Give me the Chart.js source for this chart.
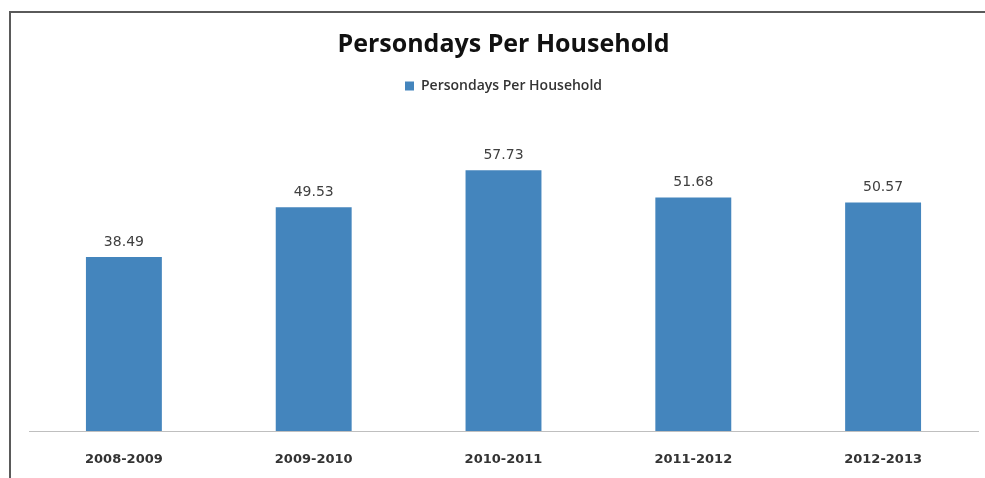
<!DOCTYPE html>
<html>
<head>
<meta charset="utf-8">
<script src="https://cdn.jsdelivr.net/npm/chart.js@4"></script>
<style>
  html, body { margin: 0; padding: 0; background: #fff; overflow: hidden; }
  #wrap { position: relative; width: 985px; height: 478px; }
  #frame { position: absolute; left: 9px; top: 11px; right: 0; bottom: -5px;
           border-left: 2px solid #5a5a5a; border-top: 2px solid #5a5a5a; pointer-events: none; }
  canvas { position: absolute; left: 0; top: 0; }
</style>
</head>
<body>
<div id="wrap">
  <canvas id="chart" width="985" height="478"></canvas>
  <div id="frame"></div>
</div>
<script>
// data
const years = ['2008-2009', '2009-2010', '2010-2011', '2011-2012', '2012-2013'];
const persondays = [38.49, 49.53, 57.73, 51.68, 50.57];
const seriesName = 'Persondays Per Household';

// values printed above each bar
const barValues = {
  id: 'barValues',
  afterDatasetsDraw(chart) {
    const ctx = chart.ctx;
    const meta = chart.getDatasetMeta(0);
    ctx.save();
    ctx.font = '14px "DejaVu Sans"';
    ctx.fillStyle = '#404040';
    ctx.textAlign = 'center';
    ctx.textBaseline = 'middle';
    meta.data.forEach((bar, i) => {
      ctx.fillText(persondays[i].toFixed(2), bar.x, bar.y - 15);
    });
    ctx.restore();
  }
};

new Chart(document.getElementById('chart'), {
  type: 'bar',
  data: {
    labels: years,
    datasets: [{
      label: seriesName,
      data: persondays,
      backgroundColor: '#4485bd',
      borderWidth: 0,
      barPercentage: 0.4,
      categoryPercentage: 1
    }]
  },
  options: {
    responsive: false,
    animation: false,
    layout: { padding: { left: 29, right: 7, top: 0, bottom: 0 } },
    plugins: {
      title: {
        display: true,
        text: seriesName,
        color: '#111',
        font: { family: '"Open Sans"', size: 25, weight: 'bold', lineHeight: 1.2 },
        padding: { top: 30, bottom: 11 }
      },
      legend: {
        display: true,
        position: 'top',
        labels: {
          boxWidth: 9, boxHeight: 9, color: '#333',
          font: { family: '"Open Sans"', size: 14, weight: '600' },
          padding: 8
        }
      },
      tooltip: { enabled: false }
    },
    scales: {
      x: {
        grid: { display: false },
        border: { display: true, color: '#bfbfbf', width: 1 },
        ticks: { color: '#333', font: { family: '"DejaVu Sans"', size: 13, weight: 'bold' }, padding: 13 },
        afterFit: s => { s.height = 47; }
      },
      y: {
        display: false,
        min: 0,
        max: 72.6
      }
    }
  },
  plugins: [barValues]
});
</script>
</body>
</html>
